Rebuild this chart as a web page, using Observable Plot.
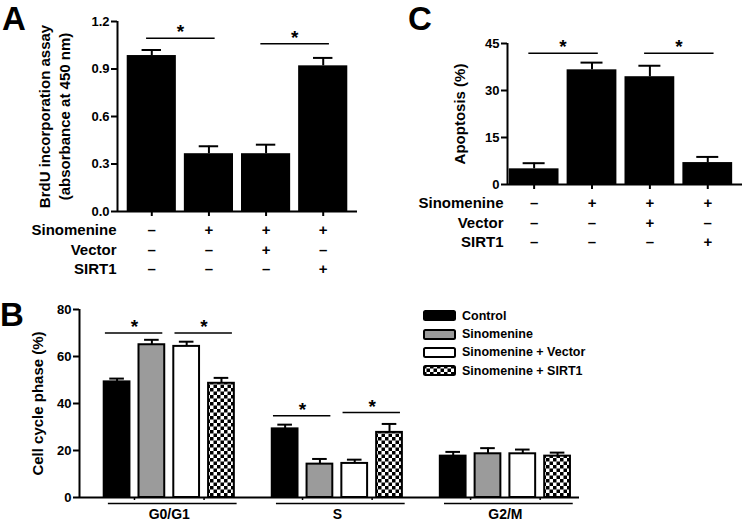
<!DOCTYPE html>
<html><head><meta charset="utf-8">
<script src="https://cdn.jsdelivr.net/npm/d3@7"></script>
<script src="https://cdn.jsdelivr.net/npm/@observablehq/plot@0.6"></script>
<style>
body{margin:0;background:#fff;}
#fig{position:relative;width:746px;height:522px;overflow:hidden;font-family:Arial,"Liberation Sans",Helvetica,sans-serif;color:#000;}
.panel{position:absolute;}
.letter{position:absolute;font-weight:bold;font-size:33px;line-height:38px;}
#legend{position:absolute;left:423px;top:306.5px;font-weight:bold;font-size:12.5px;}
.lrow{display:flex;align-items:center;height:18.4px;white-space:nowrap;}
.lrow svg{margin-right:6px;}
</style></head><body>
<svg width="0" height="0" style="position:absolute"><defs>
<pattern id="checker" patternUnits="userSpaceOnUse" width="7" height="7">
<rect width="7" height="7" fill="#fff"/><rect width="3.5" height="3.5" fill="#000"/><rect x="3.5" y="3.5" width="3.5" height="3.5" fill="#000"/>
</pattern></defs></svg>
<div id="fig"></div>
<script>
// ---------- data ----------
const groups = ["Control", "Sinomenine", "Sinomenine + Vector", "Sinomenine + SIRT1"];
const rowLabels = ["Sinomenine", "Vector", "SIRT1"];
const sinomenineSigns = ["–", "+", "+", "+"];
const vectorSigns = ["–", "–", "+", "–"];
const sirt1Signs = ["–", "–", "–", "+"];

// Panel A: BrdU incorporation (absorbance at 450 nm)
const brduMean = [0.985, 0.365, 0.365, 0.92];
const brduSem = [0.035, 0.047, 0.057, 0.05];
const brduTicks = [0, 0.3, 0.6, 0.9, 1.2];
const brduSig = [{a: 0, b: 1, y: 1.095}, {a: 2, b: 3, y: 1.06}];

// Panel C: Apoptosis (%)
const apoMean = [5.0, 36.6, 34.4, 7.0];
const apoSem = [1.8, 2.3, 3.5, 1.8];
const apoTicks = [0, 15, 30, 45];
const apoSig = [{a: 0, b: 1, y: 41.9}, {a: 2, b: 3, y: 41.9}];

// Panel B: Cell cycle phase (%)
const phases = ["G0/G1", "S", "G2/M"];
const controlPhase = [49.2, 29.2, 17.6];
const controlSem = [1.4, 1.8, 1.8];
const sinoPhase = [65.0, 14.2, 18.6];
const sinoSem = [2.1, 2.2, 2.4];
const vectorPhase = [64.3, 14.5, 18.6];
const vectorSem = [2.0, 1.6, 1.8];
const sirt1Phase = [48.6, 27.7, 17.6];
const sirt1Sem = [2.3, 3.6, 1.5];
const phaseTicks = [0, 20, 40, 60, 80];
const phaseSig = [
  {g: 0, a: 0, b: 1, y: 70}, {g: 0, a: 2, b: 3, y: 70},
  {g: 1, a: 0, b: 1, y: 34.8}, {g: 1, a: 2, b: 3, y: 36.2}
];
const seriesFills = ["#000", "#9b9b9b", "#fff", "url(#checker)"];

// ---------- drawing ----------
const FONT = 'Arial, "Liberation Sans", Helvetica, sans-serif';
const fig = document.getElementById("fig");
const baseStyle = {fontFamily: FONT, fontSize: "13px", fontWeight: "bold", background: "transparent", color: "#000", overflow: "visible"};
const signRows = [sinomenineSigns, vectorSigns, sirt1Signs];
const rowDy = [19, 38.5, 57.5];

function place(node, left, top) {
  const d = document.createElement("div");
  d.className = "panel";
  d.style.left = left + "px";
  d.style.top = top + "px";
  d.appendChild(node);
  fig.appendChild(d);
}

function conditionPanel(o) {
  const data = o.mean.map((v, i) => ({i, v, e: v + o.sem[i]}));
  const marks = [
    Plot.rectY(data, {x1: d => d.i - 0.43, x2: d => d.i + 0.43, y1: 0, y2: "v", fill: "#000"}),
    Plot.ruleX(data, {x: "i", y1: "v", y2: "e", strokeWidth: 2}),
    Plot.ruleY(data, {y: "e", x1: d => d.i - o.cap, x2: d => d.i + o.cap, strokeWidth: 2}),
    Plot.ruleX([o.xDomain[0]], {strokeWidth: 2}),
    Plot.ruleY([0], {strokeWidth: 2}),
    Plot.axisY({ticks: o.ticks, tickFormat: o.fmt, tickSize: 6, tickPadding: 2, strokeWidth: 2, label: null, fontSize: 13, fontWeight: "bold"}),
    Plot.axisX({ticks: d3.range(o.mean.length), tickFormat: () => "", tickSize: 5, strokeWidth: 2, label: null}),
    Plot.link(o.sig, {x1: d => d.a - 0.1, x2: d => d.b + 0.1, y1: "y", y2: "y", strokeWidth: 1.5}),
    Plot.text(o.sig, {x: d => (d.a + d.b) / 2, y: "y", text: () => "*", fontSize: 19, fontWeight: "bold", dy: -6}),
    Plot.text([o.ylabel], {frameAnchor: "left", textAnchor: "middle", lineAnchor: "middle", rotate: -90, dx: o.labelDx, fontSize: 15, fontWeight: "bold", lineHeight: 1.33})
  ];
  rowLabels.forEach((lab, k) => {
    marks.push(Plot.text([lab], {frameAnchor: "bottom-left", textAnchor: "end", lineAnchor: "middle", dx: o.rowDx, dy: rowDy[k], fontSize: 15, fontWeight: "bold"}));
    marks.push(Plot.text(signRows[k], {x: (d, i) => i, y: 0, text: d => d, lineAnchor: "middle", dy: rowDy[k], fontSize: 15, fontWeight: "bold"}));
  });
  return Plot.plot({
    width: o.width, height: o.height,
    marginLeft: o.ml, marginRight: o.mr, marginTop: o.mt, marginBottom: o.mb,
    x: {domain: o.xDomain, axis: null},
    y: {domain: o.yDomain, axis: null},
    style: baseStyle,
    marks
  });
}

place(conditionPanel({
  mean: brduMean, sem: brduSem, ticks: brduTicks, fmt: d3.format(".1f"), sig: brduSig,
  ylabel: "BrdU incorporation assay\n(absorbance at 450 nm)", labelDx: -64, rowDx: -1, cap: 0.17,
  width: 380, height: 280, ml: 117, mr: 23, mt: 21, mb: 69,
  xDomain: [-0.6, 3.6], yDomain: [0, 1.2]
}), 0, 0);

place(conditionPanel({
  mean: apoMean, sem: apoSem, ticks: apoTicks, fmt: d3.format("d"), sig: apoSig,
  ylabel: "Apoptosis (%)", labelDx: -49, rowDx: -4, cap: 0.19,
  width: 366, height: 260, ml: 127, mr: 4, mt: 43, mb: 76,
  xDomain: [-0.46, 3.6], yDomain: [0, 45]
}), 380, 0);

// Panel B
const GS = 4.83;
const seriesMeans = [controlPhase, sinoPhase, vectorPhase, sirt1Phase];
const seriesSems = [controlSem, sinoSem, vectorSem, sirt1Sem];
const bMarks = [];
seriesMeans.forEach((vals, s) => {
  const data = vals.map((v, g) => ({x: g * GS + s, v, e: v + seriesSems[s][g]}));
  bMarks.push(Plot.ruleX(data, {x: "x", y1: "v", y2: "e", strokeWidth: 2}));
  bMarks.push(Plot.ruleY(data, {y: "e", x1: d => d.x - 0.21, x2: d => d.x + 0.21, strokeWidth: 2}));
  bMarks.push(Plot.rectY(data, {x1: d => d.x - 0.37, x2: d => d.x + 0.37, y1: 0, y2: "v", fill: seriesFills[s], stroke: "#000", strokeWidth: 2}));
});
const xDomB = [-1.08, 13.29];
const minorTicksB = phases.flatMap((p, g) => [g * GS + 0.5, g * GS + 2.5]);
bMarks.push(
  Plot.ruleX([xDomB[0]], {strokeWidth: 2}),
  Plot.ruleY([0], {strokeWidth: 2}),
  Plot.axisY({ticks: phaseTicks, tickSize: 6, tickPadding: 2, strokeWidth: 2, label: null, fontSize: 13, fontWeight: "bold"}),
  Plot.axisX({ticks: minorTicksB, tickFormat: () => "", tickSize: 3, strokeWidth: 1.5, label: null}),
  Plot.ruleY(phases, {y: 0, x1: (d, g) => g * GS - 0.25, x2: (d, g) => g * GS + 3.45, dy: 6, strokeWidth: 1.5}),
  Plot.text(phases, {x: (d, g) => g * GS + 1.5, y: 0, text: d => d, lineAnchor: "middle", dy: 17, fontSize: 14, fontWeight: "bold"}),
  Plot.link(phaseSig, {x1: d => d.g * GS + d.a - 0.35, x2: d => d.g * GS + d.b + 0.3, y1: "y", y2: "y", strokeWidth: 1.5}),
  Plot.text(phaseSig, {x: d => d.g * GS + (d.a + d.b) / 2, y: "y", text: () => "*", fontSize: 19, fontWeight: "bold", dy: -6}),
  Plot.text(["Cell cycle phase (%)"], {frameAnchor: "left", textAnchor: "middle", lineAnchor: "middle", rotate: -90, dx: -41, fontSize: 15, fontWeight: "bold"})
);
place(Plot.plot({
  width: 746, height: 232,
  marginLeft: 79, marginRight: 167, marginTop: 19, marginBottom: 25,
  x: {domain: xDomB, axis: null},
  y: {domain: [0, 80], axis: null},
  style: baseStyle,
  marks: bMarks
}), 0, 290);

// Legend for panel B
const legend = document.createElement("div");
legend.id = "legend";
groups.forEach((name, s) => {
  const row = document.createElement("div");
  row.className = "lrow";
  row.innerHTML = `<svg width="33" height="11"><rect x="1" y="1" width="31" height="9" rx="1.5" fill="${seriesFills[s]}" stroke="#000" stroke-width="2"/></svg><span>${name}</span>`;
  legend.appendChild(row);
});
fig.appendChild(legend);

// Panel letters
[["A", 2, 0], ["B", 0, 296], ["C", 408, 0]].forEach(([t, l, tp]) => {
  const d = document.createElement("div");
  d.className = "letter";
  d.textContent = t;
  d.style.left = l + "px";
  d.style.top = tp + "px";
  fig.appendChild(d);
});
</script>
</body></html>
